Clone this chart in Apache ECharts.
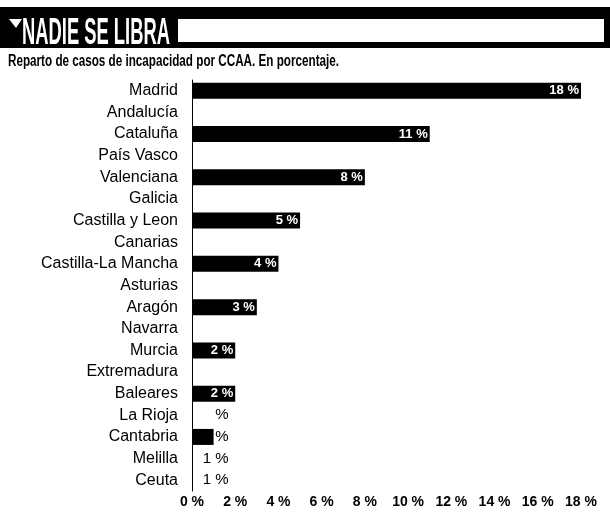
<!DOCTYPE html>
<html>
<head>
<meta charset="utf-8">
<script src="https://cdn.jsdelivr.net/npm/echarts@6/dist/echarts.min.js"></script>
<style>
html,body{margin:0;padding:0;background:#fff;}
#chart{width:610px;height:519px;}
</style>
</head>
<body>
<div id="chart"></div>
<script>
const titleText = 'NADIE SE LIBRA';
const subtitleText = 'Reparto de casos de incapacidad por CCAA. En porcentaje.';
const categories = ['Madrid','Andalucía','Cataluña','País Vasco','Valenciana','Galicia','Castilla y Leon','Canarias','Castilla-La Mancha','Asturias','Aragón','Navarra','Murcia','Extremadura','Baleares','La Rioja','Cantabria','Melilla','Ceuta'];
const values = [18, null, 11, null, 8, null, 5, null, 4, null, 3, null, 2, null, 2, 1, 1, 1, 1];
const valueLabels = ['18 %','','11 %','','8 %','','5 %','','4 %','','3 %','','2 %','','2 %','%','1 %','1 %','1 %'];
const printedBar = [true,false,true,false,true,false,true,false,true,false,true,false,true,false,true,false,true,false,false];
const xTicks = [0,2,4,6,8,10,12,14,16,18];

const FONT = '"Liberation Sans", Arial, sans-serif';
const chart = echarts.init(document.getElementById('chart'), null, {renderer:'canvas'});

const data = values.map((v, i) => {
  const small = v !== null && v <= 1;
  return {
    value: v,
    itemStyle: { color: printedBar[i] ? '#000' : 'rgba(0,0,0,0)' },
    label: small ? {
      show: true, position: 'insideRight', distance: 0, offset: [15, 0],
      color: '#000', fontWeight: 'normal', fontSize: 15, fontFamily: FONT,
      formatter: () => valueLabels[i]
    } : {
      show: v !== null, position: 'insideRight', distance: 2,
      color: '#fff', fontWeight: 'bold', fontSize: 13, fontFamily: FONT,
      formatter: () => valueLabels[i]
    }
  };
});

chart.setOption({
  animation: false,
  backgroundColor: '#fff',
  textStyle: { fontFamily: FONT },
  grid: { left: 192, right: 29, top: 80, height: 411 },
  xAxis: {
    type: 'value', min: xTicks[0], max: xTicks[xTicks.length-1], interval: 2,
    axisLine: { show: false }, axisTick: { show: false }, splitLine: { show: false },
    axisLabel: { formatter: '{value} %', color: '#000', fontSize: 14, fontWeight: 'bold', margin: 4, fontFamily: FONT }
  },
  yAxis: {
    type: 'category', data: categories, inverse: true,
    axisLine: { show: true, lineStyle: { color: '#000', width: 1 } },
    axisTick: { show: false },
    axisLabel: { color: '#000', fontSize: 16, margin: 14, fontFamily: FONT }
  },
  series: [{
    type: 'bar', data: data, barWidth: 16
  }],
  graphic: [
    { type: 'rect', x: 0, y: 7, shape: { width: 610, height: 41 }, style: { fill: '#000' } },
    { type: 'rect', x: 178, y: 19, shape: { width: 426, height: 23 }, style: { fill: '#fff' } },
    { type: 'polygon', shape: { points: [[9,19],[22,19],[16,28]] }, style: { fill: '#fff' } },
    { type: 'text', x: 22, y: 16, scaleX: 0.51, originX: 0, originY: 0,
      style: { text: titleText, fill: '#fff', font: 'bold 36px "Liberation Sans", Arial, sans-serif' } },
    { type: 'text', x: 8, y: 54, scaleX: 0.73, originX: 0, originY: 0,
      style: { text: subtitleText, fill: '#000', font: 'bold 16px "Liberation Sans", Arial, sans-serif' } }
  ]
});
</script>
</body>
</html>
